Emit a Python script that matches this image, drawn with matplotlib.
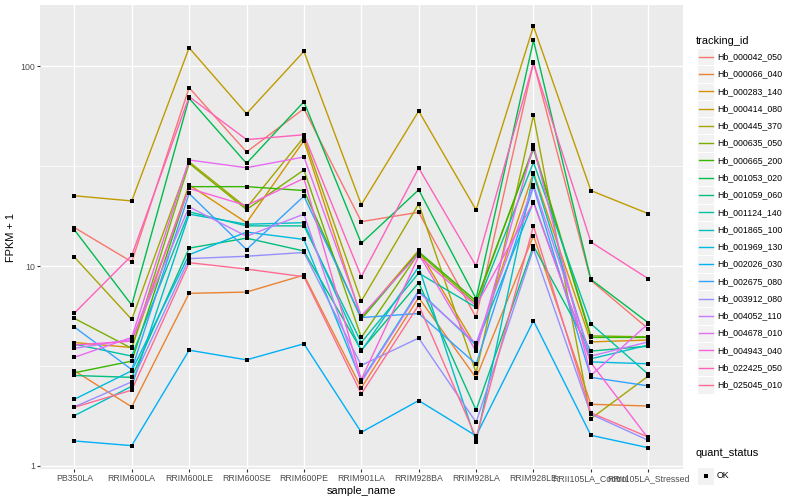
import numpy as np
import matplotlib
matplotlib.use("Agg")
import matplotlib.pyplot as plt
from matplotlib.patches import Rectangle
from matplotlib.lines import Line2D
from matplotlib.ticker import NullFormatter, FixedLocator

samples = ["PB350LA", "RRIM600LA", "RRIM600LE", "RRIM600SE", "RRIM600PE",
           "RRIM901LA", "RRIM928BA", "RRIM928LA", "RRIM928LE",
           "RRII105LA_Control", "RRII105LA_Stressed"]

tracking_ids = ["Hb_000042_050", "Hb_000066_040", "Hb_000283_140", "Hb_000414_080",
                "Hb_000445_370", "Hb_000635_050", "Hb_000665_200", "Hb_001053_020",
                "Hb_001059_060", "Hb_001124_140", "Hb_001865_100", "Hb_001969_130",
                "Hb_002026_030", "Hb_002675_080", "Hb_003912_080", "Hb_004052_110",
                "Hb_004678_010", "Hb_004943_040", "Hb_022425_050", "Hb_025045_010"]

hb_000042_050 = [15.6, 10.5, 78.3, 37.3, 61.4, 16.7, 18.6, 5.53, 105, 8.48, 4.85]
hb_000066_040 = [2.99, 1.97, 7.30, 7.41, 9.01, 2.45, 6.95, 2.75, 14.2, 2.03, 1.99]
hb_000283_140 = [4.14, 3.91, 25.5, 16.5, 42.5, 5.53, 12.0, 3.94, 29.4, 4.17, 4.26]
hb_000414_080 = [22.5, 21.2, 124, 58.0, 119, 20.3, 59.8, 19.1, 159, 23.9, 18.3]
hb_000445_370 = [11.1, 5.40, 33.3, 19.6, 44.2, 6.68, 20.5, 2.92, 56.9, 1.72, 2.81]
hb_000635_050 = [5.47, 3.87, 32.7, 19.2, 30.3, 4.39, 11.6, 6.49, 39.5, 4.47, 4.42]
hb_000665_200 = [2.92, 3.34, 25.0, 25.0, 23.9, 5.42, 11.8, 6.68, 38.6, 4.39, 4.39]
hb_001053_020 = [15.2, 6.38, 69.3, 32.7, 66.6, 13.0, 24.1, 6.87, 135, 8.58, 5.20]
hb_001059_060 = [2.83, 2.77, 12.3, 13.8, 11.9, 3.79, 8.25, 1.90, 12.6, 3.75, 3.97]
hb_001124_140 = [4.06, 3.54, 18.7, 15.9, 15.9, 4.14, 9.22, 6.21, 33.1, 5.14, 2.87]
hb_001865_100 = [1.78, 2.50, 18.2, 16.2, 16.5, 3.75, 9.92, 1.32, 28.9, 3.43, 4.02]
hb_001969_130 = [2.15, 2.99, 11.4, 14.8, 13.6, 2.66, 7.52, 4.02, 21.0, 3.31, 3.24]
hb_002026_030 = [1.33, 1.26, 3.79, 3.39, 4.08, 1.47, 2.12, 1.41, 5.32, 1.42, 1.23]
hb_002675_080 = [4.95, 3.03, 23.1, 12.1, 22.4, 5.52, 5.79, 3.23, 25.0, 2.77, 2.51]
hb_003912_080 = [1.97, 2.63, 10.9, 11.2, 11.7, 3.18, 4.36, 1.65, 12.2, 1.81, 1.34]
hb_004052_110 = [3.87, 4.29, 19.8, 14.1, 18.2, 2.62, 7.39, 4.10, 25.5, 3.54, 4.17]
hb_004678_010 = [3.49, 4.39, 34.0, 31.1, 35.2, 5.63, 11.5, 3.74, 40.3, 2.83, 5.15]
hb_004943_040 = [4.02, 4.21, 24.5, 20.1, 27.5, 2.70, 11.2, 6.34, 20.8, 3.28, 1.37]
hb_022425_050 = [5.81, 11.3, 70.6, 43.0, 45.5, 8.84, 31.0, 10.0, 104, 13.2, 8.64]
hb_025045_010 = [1.96, 2.39, 10.4, 9.66, 8.84, 2.29, 6.38, 1.38, 15.9, 1.84, 1.39]

series_values = [hb_000042_050, hb_000066_040, hb_000283_140, hb_000414_080,
                 hb_000445_370, hb_000635_050, hb_000665_200, hb_001053_020,
                 hb_001059_060, hb_001124_140, hb_001865_100, hb_001969_130,
                 hb_002026_030, hb_002675_080, hb_003912_080, hb_004052_110,
                 hb_004678_010, hb_004943_040, hb_022425_050, hb_025045_010]

colors = ["#F8766D", "#EA8331", "#D89000", "#C09B00", "#A3A500", "#7CAE00",
          "#39B600", "#00BB4E", "#00BF7D", "#00C1A3", "#00BFC4", "#00BAE0",
          "#00B0F6", "#35A2FF", "#9590FF", "#C77CFF", "#E76BF3", "#FA62DB",
          "#FF62BC", "#FF6C91"]

status_labels = ["OK"]

plt.rcParams['font.family'] = ['Liberation Sans', 'DejaVu Sans']

W, H = 800, 500
fig = plt.figure(figsize=(8, 5), dpi=100)
fig.patch.set_facecolor('white')

pl, pr, pt, pb = 39.9, 682.7, 5.2, 468.8
ax = fig.add_axes([pl / W, 1 - pb / H, (pr - pl) / W, (pb - pt) / H])
ax.set_facecolor('#EBEBEB')

x = np.arange(len(samples))
for vals, col in zip(series_values, colors):
    ax.plot(x, vals, color=col, lw=1.0, zorder=2, solid_joinstyle='round')

allx = np.tile(x, len(series_values))
ally = np.concatenate([np.asarray(v, float) for v in series_values])
ax.scatter(allx, ally, marker='s', s=8, color='black', linewidths=0, zorder=3)

ax.set_yscale('log')
lo, hi = np.log10(ally.min()), np.log10(ally.max())
pad = 0.05 * (hi - lo)
ax.set_ylim(10 ** (lo - pad), 10 ** (hi + pad))
ax.set_xlim(-0.6, len(samples) - 1 + 0.6)

ax.yaxis.set_major_locator(FixedLocator([1, 10, 100]))
ax.set_yticklabels(['1', '10', '100'])
ax.yaxis.set_minor_locator(FixedLocator([10 ** 0.5, 10 ** 1.5]))
ax.yaxis.set_minor_formatter(NullFormatter())
ax.set_xticks(x)
ax.set_xticklabels(samples)

ax.grid(which='major', color='white', lw=1.0)
ax.grid(which='minor', axis='y', color='white', lw=0.5)
ax.set_axisbelow(True)
for sp in ax.spines.values():
    sp.set_visible(False)
ax.tick_params(which='major', length=2.0, width=0.8, color='#333333',
               labelsize=6.3, labelcolor='#4D4D4D', pad=1.6)
ax.tick_params(which='minor', length=0)

ax.set_xlabel('sample_name', fontsize=7.9, labelpad=2.5, color='black')
ax.set_ylabel('FPKM + 1', fontsize=7.9, labelpad=3, color='black')

# legend overlay (pixel coordinates)
lax = fig.add_axes([0, 0, 1, 1])
lax.set_xlim(0, W)
lax.set_ylim(H, 0)
lax.axis('off')
lax.patch.set_alpha(0)

key = 17.28
kx = 697.0
lax.text(696, 40.5, 'tracking_id', fontsize=7.9, va='center', ha='left')
y0 = 56.7
for i, (tid, col) in enumerate(zip(tracking_ids, colors)):
    yc = y0 + key * i
    lax.add_patch(Rectangle((kx, yc - key / 2), key, key, facecolor='#F2F2F2',
                            edgecolor='white', lw=0.8))
    lax.add_line(Line2D([kx + 1.5, kx + key - 1.5], [yc, yc], color=col, lw=1.0))
    lax.text(kx + key + 2.6, yc, tid, fontsize=6.3, va='center', ha='left')

lax.text(696, 453, 'quant_status', fontsize=7.9, va='center', ha='left')
yc = 476
for lab in status_labels:
    lax.add_patch(Rectangle((kx, yc - key / 2), key, key, facecolor='#F2F2F2',
                            edgecolor='white', lw=0.8))
    lax.scatter([kx + key / 2], [yc], marker='s', s=8, color='black', linewidths=0)
    lax.text(kx + key + 2.6, yc, lab, fontsize=6.3, va='center', ha='left')
    yc += key

fig.savefig('out.png', dpi=100)
